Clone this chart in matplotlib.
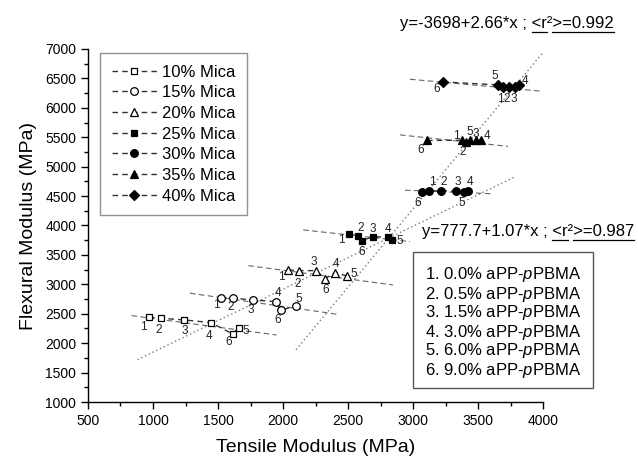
import numpy as np
import matplotlib
matplotlib.use('Agg')
import matplotlib.pyplot as plt
from matplotlib.ticker import MultipleLocator
from matplotlib.lines import Line2D
from matplotlib.patches import Rectangle

plt.rcParams['font.family'] = ['Liberation Sans', 'DejaVu Sans']
plt.rcParams['mathtext.fontset'] = 'custom'
plt.rcParams['mathtext.it'] = 'Liberation Sans:italic'
plt.rcParams['mathtext.rm'] = 'Liberation Sans'

# ---------------- data ----------------
series_labels = ['10% Mica', '15% Mica', '20% Mica', '25% Mica', '30% Mica', '35% Mica', '40% Mica']
point_ids = ['1', '2', '3', '4', '5', '6']

x_10 = [969, 1062, 1241, 1446, 1662, 1613]
y_10 = [2440, 2423, 2395, 2349, 2264, 2156]
x_15 = [1523, 1613, 1767, 1944, 2098, 1985]
y_15 = [2774, 2764, 2735, 2705, 2633, 2560]
x_20 = [2041, 2123, 2254, 2402, 2490, 2323]
y_20 = [3245, 3233, 3233, 3199, 3143, 3097]
x_25 = [2510, 2579, 2690, 2810, 2841, 2610]
y_25 = [3852, 3823, 3811, 3801, 3755, 3743]
x_30 = [3120, 3215, 3331, 3420, 3390, 3070]
y_30 = [4585, 4590, 4585, 4585, 4570, 4565]
x_35 = [3377, 3408, 3485, 3523, 3438, 3108]
y_35 = [5450, 5420, 5445, 5450, 5450, 5445]
x_40 = [3692, 3738, 3785, 3815, 3654, 3231]
y_40 = [6350, 6350, 6350, 6390, 6390, 6440]

# per-series linear fit lines (end points)
fit_x_ends = [(835, 1951), (1285, 2420), (1733, 2846), (2156, 2977), (2938, 3608), (2900, 3730), (2977, 3977)]
fit_y_ends = [(2468, 2139), (2849, 2491), (3318, 2990), (3925, 3726), (4600, 4540), (5540, 5345), (6486, 6285)]

# global fits
eq1_intercept, eq1_slope, eq1_r2 = -3698, 2.66, 0.992
eq1_x = [2100, 4000]
eq2_intercept, eq2_slope, eq2_r2 = 777.7, 1.07, 0.987
eq2_x = [880, 3790]

legend2_lines = ['1. 0.0% aPP-$\\mathit{p}$PBMA', '2. 0.5% aPP-$\\mathit{p}$PBMA',
                 '3. 1.5% aPP-$\\mathit{p}$PBMA', '4. 3.0% aPP-$\\mathit{p}$PBMA',
                 '5. 6.0% aPP-$\\mathit{p}$PBMA', '6. 9.0% aPP-$\\mathit{p}$PBMA']

xs = [x_10, x_15, x_20, x_25, x_30, x_35, x_40]
ys = [y_10, y_15, y_20, y_25, y_30, y_35, y_40]

# ---------------- styles ----------------
markers = ['s', 'o', '^', 's', 'o', '^', 'D']
filled = [False, False, False, True, True, True, True]
msize = [5, 5.5, 6, 5, 5.5, 6, 5]
# label offsets in pixels for points 1..6 of each series
label_offsets = [
    [(-6, -10), (-2, -12), (0, -11), (-2, -13), (7, -3), (-4, -8)],
    [(-5, -7), (-2, -9), (-2, -10), (2, 9), (3, 7), (-3, -10)],
    [(-7, -7), (-1, -13), (-2, 9), (1, 9), (7, 2), (1, -11)],
    [(-8, -6), (2, 8), (0, 8), (0, 8), (7, -1), (-1, -11)],
    [(4, 9), (3, 9), (2, 9), (2, 9), (-2, -11), (-4, -11)],
    [(-6, 4), (-3, -10), (0, 6), (6, 4), (0, 8), (-6, -10)],
    [(-3, -12), (-2, -12), (-1, -12), (6, 4), (-3, 9), (-6, -7)],
]

W, H = 638, 459
fig = plt.figure(figsize=(W / 100, H / 100), dpi=100)
ax = fig.add_axes([88 / W, 1 - 402 / H, (543 - 88) / W, (402 - 49) / H])

ax.set_xlim(500, 4000)
ax.set_ylim(1000, 7000)

# big dotted fit lines
for b, m, xr in [(eq1_intercept, eq1_slope, eq1_x), (eq2_intercept, eq2_slope, eq2_x)]:
    xx = np.array(xr, dtype=float)
    ax.plot(xx, b + m * xx, ls=(0, (1, 2)), color='#777777', lw=1.0, zorder=1)

handles = []
for i in range(7):
    ax.plot(fit_x_ends[i], fit_y_ends[i], ls=(0, (5, 3)), color='#666666', lw=0.8, zorder=2)
    order = np.argsort(xs[i])
    xo = np.array(xs[i])[order]
    yo = np.array(ys[i])[order]
    ax.plot(xo, yo, ls=(0, (4, 3)), color='#333333', lw=1.0, zorder=3)
    fc = 'black' if filled[i] else 'white'
    ax.plot(xs[i], ys[i], ls='none', marker=markers[i], ms=msize[i], mfc=fc,
            mec='black', mew=0.9, zorder=4)
    for j, pid in enumerate(point_ids):
        ax.annotate(pid, (xs[i][j], ys[i][j]), xytext=label_offsets[i][j],
                    textcoords='offset pixels', ha='center', va='center',
                    fontsize=8.5, color='#222222', zorder=5)
    handles.append(Line2D([], [], ls=(0, (4, 3)), color='#333333', lw=1.0,
                          marker=markers[i], ms=msize[i], mfc=fc, mec='black', mew=0.9,
                          label=series_labels[i]))

ax.spines['top'].set_visible(False)
ax.spines['right'].set_visible(False)
for s in ['left', 'bottom']:
    ax.spines[s].set_linewidth(1.0)
ax.xaxis.set_major_locator(MultipleLocator(500))
ax.xaxis.set_minor_locator(MultipleLocator(250))
ax.yaxis.set_major_locator(MultipleLocator(500))
ax.yaxis.set_minor_locator(MultipleLocator(250))
ax.tick_params(which='major', direction='out', length=5, width=1, labelsize=10)
ax.tick_params(which='minor', direction='out', length=3, width=1)
ax.set_xlabel('Tensile Modulus (MPa)', fontsize=14, labelpad=8)
ax.set_ylabel('Flexural Modulus (MPa)', fontsize=14, labelpad=6)

leg = ax.legend(handles=handles, loc='upper left', bbox_to_anchor=(100 / W, 1 - 53 / H),
                bbox_transform=fig.transFigure, fontsize=12, frameon=True, fancybox=False,
                edgecolor='#777777', borderaxespad=0, labelspacing=0.34, handlelength=2.7,
                handletextpad=0.3, borderpad=0.7)
leg.get_frame().set_linewidth(1.0)

# ---------------- equations with underlines ----------------
fig.canvas.draw()
renderer = fig.canvas.get_renderer()


def equation(x_left, y_base, b, m, r2):
    bstr = ('%g' % b)
    prefix = 'y=%s+%.2f*x ; ' % (bstr, m)
    part_u1 = '<r'
    part_sup = '\u00b2'
    part_u2 = '>=%.3f' % r2
    full = prefix + part_u1 + part_sup + part_u2
    t = fig.text(x_left / W, y_base / H, full, fontsize=12, ha='left', va='baseline')
    fp = t.get_fontproperties()

    def wid(s):
        return renderer.get_text_width_height_descent(s, fp, ismath=False)[0]
    x1 = x_left + wid(prefix)
    x2 = x_left + wid(prefix + part_u1)
    x3 = x_left + wid(prefix + part_u1 + part_sup)
    x4 = x_left + wid(full)
    yu = y_base - 3.5
    for a, c in [(x1, x2), (x3, x4)]:
        fig.add_artist(Line2D([a / W, c / W], [yu / H, yu / H], transform=fig.transFigure,
                              color='black', lw=0.9))


equation(400, H - 28, eq1_intercept, eq1_slope, eq1_r2)
equation(422, H - 236, eq2_intercept, eq2_slope, eq2_r2)

# ---------------- second legend box ----------------
fig.add_artist(Rectangle((413 / W, (H - 388) / H), 180 / W, 136 / H, transform=fig.transFigure,
                         fill=False, edgecolor='#555555', lw=1.0))
for k, line in enumerate(legend2_lines):
    fig.text(425 / W, (H - (275 + 19 * k)) / H, line, fontsize=12, ha='left', va='center')

fig.savefig('out.png', dpi=100)
